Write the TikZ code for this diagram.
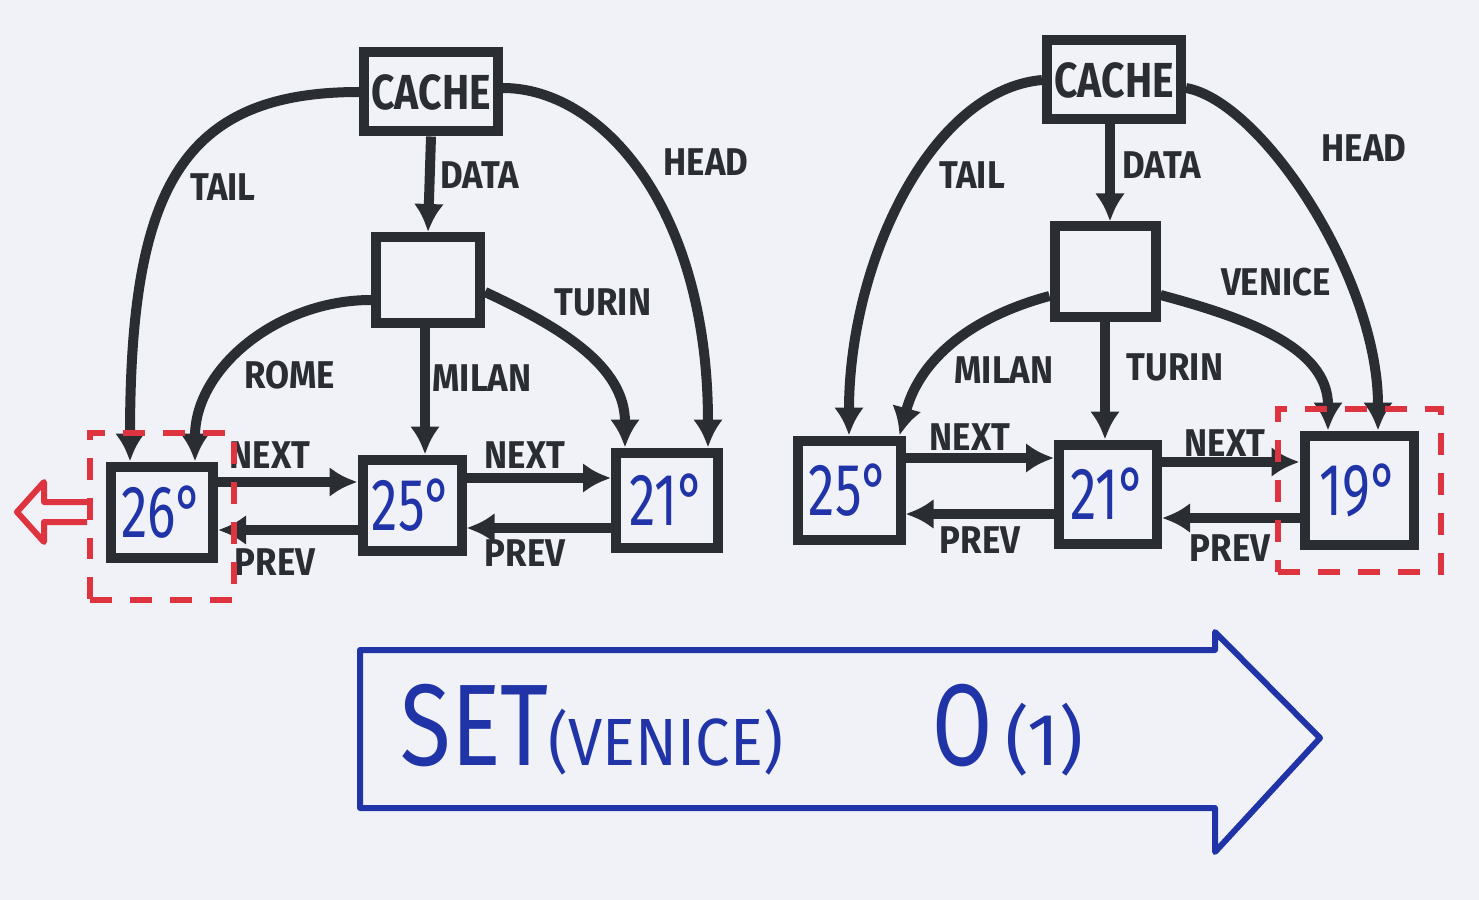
\documentclass[tikz,border=0pt]{standalone}
\usepackage{fontspec}
\setmainfont{Fira Sans}
\usepackage{tikz}
\usetikzlibrary{positioning, arrows.meta, calc, fit}

\definecolor{ink}{RGB}{42,46,50}
\definecolor{pen}{RGB}{32,52,168}
\definecolor{marker}{RGB}{222,52,64}
\definecolor{paper}{RGB}{241,242,247}

% narrow hand lettering
\newcommand{\slim}[2][0.85]{\scalebox{#1}[1]{#2}}

\tikzset{
    cell/.style={draw=ink, line width=1mm, inner sep=0pt, text=pen,
        font=\fontsize{21}{21}\selectfont},
    cachebox/.style={cell, text=ink, minimum width=13.4mm, minimum height=7.9mm,
        font=\bfseries\fontsize{14}{14}\selectfont},
    link/.style={draw=ink, line width=1mm, -{Latex[length=2.8mm,width=3mm]}},
    lbl/.style={text=ink, inner sep=1pt, font=\bfseries\fontsize{11}{11}\selectfont},
    evict/.style={draw=marker, line width=0.6mm, dash pattern=on 2.2mm off 1.8mm},
    op/.style={text=pen, inner sep=0pt, font=\fontsize{33}{33}\selectfont},
}

\begin{document}
\begin{tikzpicture}[x=0.1mm, y=-0.1mm]
    \fill[paper] (0,0) rectangle (1479,900);

    % cache and data boxes
    \foreach \name/\x/\y in {cacheL/431/92, cacheR/1114/80}
    {
        \node[cachebox] (\name) at (\x,\y) {\slim[0.83]{CACHE}};
    }
    \foreach \name/\x/\y/\w/\h in {dataL/428/280/10.4/8.6, dataR/1105/272/10.1/9.1}
    {
        \node[cell, minimum width=\w mm, minimum height=\h mm] (\name) at (\x,\y) {};
    }

    % list entries
    \foreach \name/\x/\y/\w/\h/\t in {
        n26/162/512/10.2/9.1/26°,
        n25L/412/505/9.9/9.1/25°,
        n21L/667/500/10.2/9.5/21°,
        n25R/849/490/10.3/9.9/25°,
        n21R/1108/494/9.8/9.9/21°,
        n19/1359/490/10.9/10.9/19°}
    {
        \node[cell, minimum width=\w mm, minimum height=\h mm] (\name) at (\x,\y) {\slim[0.72]{\t}};
    }

    % pointer labels
    \foreach \name/\x/\y/\t in {
        tailL/223/187/TAIL, headL/706/162/HEAD, dataLl/480/175/DATA,
        romeL/290/375/ROME, milanL/482/378/MILAN, turinL/603/302/TURIN,
        nextLa/270/455/NEXT, prevLa/275/562/PREV,
        nextLb/525/455/NEXT, prevLb/525/553/PREV,
        tailR/972/175/TAIL, headR/1364/148/HEAD, dataRl/1162/165/DATA,
        milanR/1004/370/MILAN, turinR/1175/367/TURIN, veniceR/1276/282/VENICE,
        nextRa/970/437/NEXT, prevRa/980/540/PREV,
        nextRb/1225/443/NEXT, prevRb/1230/548/PREV}
    {
        \node[lbl] (\name) at (\x,\y) {\slim[0.9]{\t}};
    }

    % left cache
    \draw[link] (cacheL.west)
        to[out=180, in=90, out looseness=1.05, in looseness=1.6] ([xshift=-3.2mm]n26.north);
    \draw[link] ([yshift=0.4mm]cacheL.east)
        to[out=0, in=90, out looseness=0.6, in looseness=1.5] ([xshift=4.1mm]n21L.north);
    \draw[link] (cacheL.south) -- (dataL.north);
    \draw[link] ([yshift=-2mm]dataL.west) to[out=180, in=90] ([xshift=3.3mm]n26.north);
    \draw[link] ([xshift=-0.3mm]dataL.south) -- ([xshift=-0.3mm]dataL.south |- n25L.north);
    \draw[link] ([yshift=-1.2mm]dataL.east) to[out=-25, in=90] ([xshift=-4.2mm]n21L.north);

    \draw[link] ([yshift=3mm]n26.east) -- ([yshift=3mm]n26.east -| n25L.west);
    \draw[link] ([yshift=-2.5mm]n25L.west) -- ([yshift=-2.5mm]n25L.west -| n26.east);
    \draw[link] ([yshift=2.7mm]n25L.east) -- ([yshift=2.7mm]n25L.east -| n21L.west);
    \draw[link] ([yshift=-2.8mm]n21L.west) -- ([yshift=-2.8mm]n21L.west -| n25L.east);

    % right cache
    \draw[link] (cacheR.west)
        to[out=185, in=90, out looseness=0.7, in looseness=1.1] (n25R.north);
    \draw[link] ([yshift=-0.8mm]cacheR.east)
        to[out=-10, in=90, out looseness=0.5, in looseness=1] ([xshift=1.9mm]n19.north);
    \draw[link] ([xshift=-0.4mm]cacheR.south) -- ([xshift=-0.4mm]cacheR.south |- dataR.north);
    \draw[link] ([yshift=-2.4mm]dataR.west) to[out=195, in=75] ([xshift=-0.6mm]n25R.north east);
    \draw[link] (dataR.south) -- (dataR.south |- n21R.north);
    \draw[link] ([yshift=-2.3mm]dataR.east) to[out=-15, in=90] ([xshift=-3.1mm]n19.north);

    \draw[link] ([yshift=3.2mm]n25R.east) -- ([yshift=3.2mm]n25R.east -| n21R.west);
    \draw[link] ([yshift=-2mm]n21R.west) -- ([yshift=-2mm]n21R.west -| n25R.east);
    \draw[link] ([yshift=3.2mm]n21R.east) -- ([yshift=3.2mm]n21R.east -| n19.west);
    \draw[link] ([yshift=-2.8mm]n19.west) -- ([yshift=-2.8mm]n19.west -| n21R.east);

    % evicted and inserted entries
    \node[evict, fit=(n26), inner xsep=1.6mm, inner ysep=3.3mm, yshift=-0.4mm] (sel26) {};
    \node[evict, fit=(n19), inner sep=2.2mm] (sel19) {};
    \draw[marker, line width=0.6mm, line join=round]
        ([yshift=1.4mm]sel26.west) -- ++(-43,0) -- ++(0,-20) -- ++(-27,30)
        -- ++(27,30) -- ++(0,-20) -- ++(43,0);

    % operation
    \draw[pen, line width=0.6mm, line join=round]
        (360,650) -- (1215,650) -- (1215,632) -- (1320,738)
        -- (1215,852) -- (1215,808) -- (360,808) -- cycle;
    \node[op, anchor=west] (setop) at (400,730)
        {\slim[0.8]{SET}\fontsize{19}{19}\selectfont\slim[0.92]{(VENICE)}};
    \node[op, anchor=west] (cost) at (932,730)
        {\slim[0.75]{O}\fontsize{21}{21}\selectfont\,(1)};
\end{tikzpicture}
\end{document}
